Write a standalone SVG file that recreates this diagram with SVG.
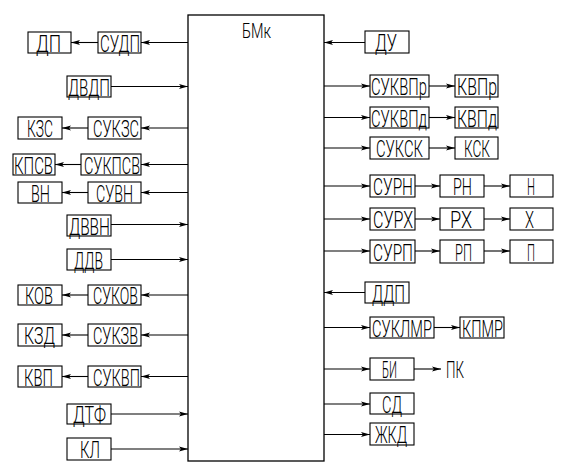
<svg xmlns="http://www.w3.org/2000/svg" width="572" height="472" viewBox="0 0 572 472">
<style>
rect{fill:#fff;stroke:#000;stroke-width:1.1}
text{font-family:Roboto,"DejaVu Sans ExtraLight","Liberation Sans",sans-serif;font-weight:300;font-size:24px;fill:#000}
.c line{stroke:#000;stroke-width:1.1;marker-end:url(#ah)}
</style>
<defs>
<marker id="ah" viewBox="0 0 10 6" refX="10" refY="3" markerWidth="9" markerHeight="5.4" orient="auto" markerUnits="userSpaceOnUse">
<path d="M10,3 L0,0.3 L2.2,3 L0,5.7 z" fill="#000"/>
</marker>
</defs>
<rect x="0" y="0" width="572" height="472" style="fill:#fff;stroke:none"/>
<g id="main"><rect x="188" y="15" width="136" height="446" style="stroke-width:1.3"/><text x="242" y="38" textLength="29" lengthAdjust="spacingAndGlyphs" style="font-size:20px">БМк</text></g>

<g id="n-dp"><rect x="28" y="32" width="43" height="21"/><text x="36" y="51.5" textLength="25" lengthAdjust="spacingAndGlyphs">ДП</text></g>
<g id="n-sudp"><rect x="98" y="32" width="43" height="21"/><text x="100" y="51.5" textLength="40" lengthAdjust="spacingAndGlyphs">СУДП</text></g>
<g id="n-dvdp"><rect x="67" y="76" width="44" height="21"/><text x="68" y="95.5" textLength="42" lengthAdjust="spacingAndGlyphs">ДВДП</text></g>
<g id="n-kzs"><rect x="18" y="117" width="44" height="22"/><text x="27" y="137" textLength="26" lengthAdjust="spacingAndGlyphs">КЗС</text></g>
<g id="n-sukzs"><rect x="88" y="117" width="53" height="22"/><text x="93" y="137" textLength="46" lengthAdjust="spacingAndGlyphs">СУКЗС</text></g>
<g id="n-kpsv"><rect x="13" y="154" width="42" height="21"/><text x="14" y="173.5" textLength="39" lengthAdjust="spacingAndGlyphs">КПСВ</text></g>
<g id="n-sukpsv"><rect x="81" y="154" width="60" height="21"/><text x="84" y="173.5" textLength="56" lengthAdjust="spacingAndGlyphs">СУКПСВ</text></g>
<g id="n-vn"><rect x="18" y="182" width="44" height="21"/><text x="31" y="201.5" textLength="19" lengthAdjust="spacingAndGlyphs">ВН</text></g>
<g id="n-suvn"><rect x="88" y="182" width="53" height="21"/><text x="96" y="201.5" textLength="37" lengthAdjust="spacingAndGlyphs">СУВН</text></g>
<g id="n-dvvn"><rect x="67" y="215" width="44" height="21"/><text x="69" y="234.5" textLength="41" lengthAdjust="spacingAndGlyphs">ДВВН</text></g>
<g id="n-ddv"><rect x="67" y="249" width="44" height="21"/><text x="74" y="268.5" textLength="29" lengthAdjust="spacingAndGlyphs">ДДВ</text></g>
<g id="n-kov"><rect x="18" y="285" width="44" height="20"/><text x="25" y="303.5" textLength="28" lengthAdjust="spacingAndGlyphs">КОВ</text></g>
<g id="n-sukov"><rect x="88" y="285" width="53" height="20"/><text x="93" y="303.5" textLength="45" lengthAdjust="spacingAndGlyphs">СУКОВ</text></g>
<g id="n-kzd"><rect x="18" y="324" width="44" height="22"/><text x="24" y="344" textLength="31" lengthAdjust="spacingAndGlyphs">КЗД</text></g>
<g id="n-sukzv"><rect x="88" y="324" width="53" height="22"/><text x="93" y="344" textLength="45" lengthAdjust="spacingAndGlyphs">СУКЗВ</text></g>
<g id="n-kvp"><rect x="18" y="366" width="44" height="21"/><text x="24" y="385.5" textLength="29" lengthAdjust="spacingAndGlyphs">КВП</text></g>
<g id="n-sukvp"><rect x="88" y="366" width="53" height="21"/><text x="93" y="385.5" textLength="47" lengthAdjust="spacingAndGlyphs">СУКВП</text></g>
<g id="n-dtf"><rect x="67" y="404" width="44" height="20"/><text x="73" y="422.5" textLength="33" lengthAdjust="spacingAndGlyphs">ДТФ</text></g>
<g id="n-kl"><rect x="67" y="438" width="44" height="22"/><text x="80" y="458" textLength="20" lengthAdjust="spacingAndGlyphs">КЛ</text></g>

<g id="n-du"><rect x="365" y="31" width="44" height="22"/><text x="375" y="51" textLength="22" lengthAdjust="spacingAndGlyphs">ДУ</text></g>
<g id="n-sukvpr"><rect x="370" y="75" width="59" height="22"/><text x="371" y="95" textLength="56" lengthAdjust="spacingAndGlyphs">СУКВПр</text></g>
<g id="n-kvpr"><rect x="455" y="75" width="43" height="22"/><text x="457" y="95" textLength="40" lengthAdjust="spacingAndGlyphs">КВПр</text></g>
<g id="n-sukvpd"><rect x="370" y="107" width="59" height="21"/><text x="371" y="126.5" textLength="56" lengthAdjust="spacingAndGlyphs">СУКВПд</text></g>
<g id="n-kvpd"><rect x="455" y="107" width="43" height="21"/><text x="457" y="126.5" textLength="40" lengthAdjust="spacingAndGlyphs">КВПд</text></g>
<g id="n-suksk"><rect x="370" y="137" width="59" height="22"/><text x="376" y="157" textLength="47" lengthAdjust="spacingAndGlyphs">СУКСК</text></g>
<g id="n-ksk"><rect x="455" y="137" width="43" height="22"/><text x="464" y="157" textLength="26" lengthAdjust="spacingAndGlyphs">КСК</text></g>
<g id="n-surn"><rect x="370" y="175" width="45" height="22"/><text x="373" y="195" textLength="40" lengthAdjust="spacingAndGlyphs">СУРН</text></g>
<g id="n-rn"><rect x="440" y="175" width="44" height="22"/><text x="453" y="195" textLength="19" lengthAdjust="spacingAndGlyphs">РН</text></g>
<g id="n-n"><rect x="510" y="175" width="43" height="22"/><text x="527" y="195" textLength="8" lengthAdjust="spacingAndGlyphs">Н</text></g>
<g id="n-surh"><rect x="370" y="208" width="45" height="22"/><text x="373" y="228" textLength="40" lengthAdjust="spacingAndGlyphs">СУРХ</text></g>
<g id="n-rh"><rect x="440" y="208" width="44" height="22"/><text x="450" y="228" textLength="22" lengthAdjust="spacingAndGlyphs">РХ</text></g>
<g id="n-h"><rect x="510" y="208" width="43" height="22"/><text x="525" y="228" textLength="9" lengthAdjust="spacingAndGlyphs">Х</text></g>
<g id="n-surp"><rect x="370" y="240" width="45" height="23"/><text x="373" y="261" textLength="40" lengthAdjust="spacingAndGlyphs">СУРП</text></g>
<g id="n-rp"><rect x="440" y="240" width="44" height="23"/><text x="455" y="261" textLength="17" lengthAdjust="spacingAndGlyphs">РП</text></g>
<g id="n-p"><rect x="510" y="240" width="43" height="23"/><text x="527" y="261" textLength="8" lengthAdjust="spacingAndGlyphs">П</text></g>
<g id="n-ddp"><rect x="365" y="282" width="44" height="21"/><text x="372" y="301.5" textLength="33" lengthAdjust="spacingAndGlyphs">ДДП</text></g>
<g id="n-suklmr"><rect x="370" y="317" width="64" height="21"/><text x="372" y="336.5" textLength="60" lengthAdjust="spacingAndGlyphs">СУКЛМР</text></g>
<g id="n-kpmr"><rect x="460" y="317" width="44" height="21"/><text x="462" y="336.5" textLength="41" lengthAdjust="spacingAndGlyphs">КПМР</text></g>
<g id="n-bi"><rect x="370" y="358" width="44" height="22"/><text x="382" y="378" textLength="15" lengthAdjust="spacingAndGlyphs">БИ</text></g>
<g id="n-pk"><text x="446" y="378" textLength="18" lengthAdjust="spacingAndGlyphs">ПК</text></g>
<g id="n-sd"><rect x="370" y="393" width="44" height="21"/><text x="382" y="412.5" textLength="20" lengthAdjust="spacingAndGlyphs">СД</text></g>
<g id="n-zhkd"><rect x="370" y="423" width="44" height="22"/><text x="375" y="443" textLength="32" lengthAdjust="spacingAndGlyphs">ЖКД</text></g>

<g id="connectors" class="c">
<line x1="188" y1="42.5" x2="141" y2="42.5"/>
<line x1="98" y1="42.5" x2="71" y2="42.5"/>
<line x1="111" y1="86.5" x2="188" y2="86.5"/>
<line x1="188" y1="128" x2="141" y2="128"/>
<line x1="88" y1="128" x2="62" y2="128"/>
<line x1="188" y1="164.5" x2="141" y2="164.5"/>
<line x1="81" y1="164.5" x2="55" y2="164.5"/>
<line x1="188" y1="192.5" x2="141" y2="192.5"/>
<line x1="88" y1="192.5" x2="62" y2="192.5"/>
<line x1="111" y1="224.5" x2="188" y2="224.5"/>
<line x1="111" y1="259.5" x2="188" y2="259.5"/>
<line x1="188" y1="295" x2="141" y2="295"/>
<line x1="88" y1="295" x2="62" y2="295"/>
<line x1="188" y1="335" x2="141" y2="335"/>
<line x1="88" y1="335" x2="62" y2="335"/>
<line x1="188" y1="376.5" x2="141" y2="376.5"/>
<line x1="88" y1="376.5" x2="62" y2="376.5"/>
<line x1="111" y1="414" x2="188" y2="414"/>
<line x1="111" y1="449" x2="188" y2="449"/>

<line x1="365" y1="42.5" x2="324" y2="42.5"/>
<line x1="324" y1="86" x2="370" y2="86"/>
<line x1="429" y1="86" x2="455" y2="86"/>
<line x1="324" y1="117.5" x2="370" y2="117.5"/>
<line x1="429" y1="117.5" x2="455" y2="117.5"/>
<line x1="324" y1="148" x2="370" y2="148"/>
<line x1="429" y1="148" x2="455" y2="148"/>
<line x1="324" y1="186" x2="370" y2="186"/>
<line x1="415" y1="186" x2="440" y2="186"/>
<line x1="484" y1="186" x2="510" y2="186"/>
<line x1="324" y1="219" x2="370" y2="219"/>
<line x1="415" y1="219" x2="440" y2="219"/>
<line x1="484" y1="219" x2="510" y2="219"/>
<line x1="324" y1="251" x2="370" y2="251"/>
<line x1="415" y1="251" x2="440" y2="251"/>
<line x1="484" y1="251" x2="510" y2="251"/>
<line x1="365" y1="292.5" x2="324" y2="292.5"/>
<line x1="324" y1="327.5" x2="370" y2="327.5"/>
<line x1="434" y1="327.5" x2="460" y2="327.5"/>
<line x1="324" y1="369" x2="370" y2="369"/>
<line x1="414" y1="369" x2="441" y2="369"/>
<line x1="324" y1="404" x2="370" y2="404"/>
<line x1="324" y1="434.5" x2="370" y2="434.5"/>
</g>
</svg>
